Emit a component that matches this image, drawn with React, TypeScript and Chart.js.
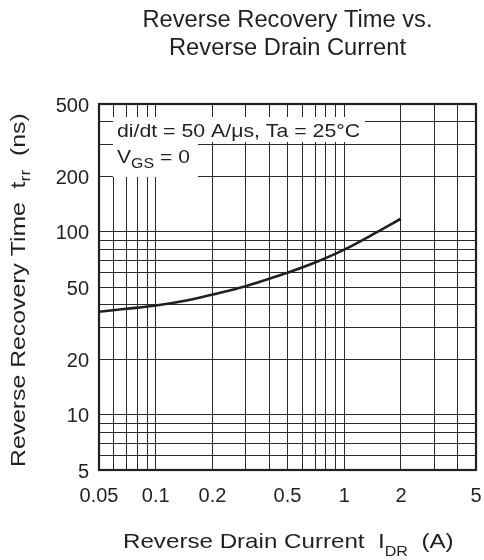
import React, { useEffect, useRef } from 'react';
import { Chart, registerables } from 'chart.js';

Chart.register(...registerables);

// ---- data ----
const titleLines = ['Reverse Recovery Time vs.', 'Reverse Drain Current'];
const currentA = [0.05, 0.07, 0.1, 0.15, 0.2, 0.3, 0.4, 0.5, 0.7, 1, 1.5, 2];
const trrNs = [36.6, 38.0, 39.6, 42.5, 45.5, 50.5, 55.5, 59.8, 68, 80, 100, 118];
const xGrid = [0.05, 0.06, 0.07, 0.08, 0.09, 0.1, 0.2, 0.3, 0.4, 0.5, 0.6, 0.7, 0.8, 0.9, 1, 2, 3, 4, 5];
const xLabels = [0.05, 0.1, 0.2, 0.5, 1, 2, 5];
const yGrid = [5, 6, 7, 8, 9, 10, 20, 30, 40, 50, 60, 70, 80, 90, 100, 200, 300, 400, 500];
const yLabels = [5, 10, 20, 50, 100, 200, 500];
const conditionLine1 = 'di/dt = 50 A/\u03bcs, Ta = 25\u00b0C';
const conditionLine2 = ['V', 'GS', ' = 0'];
const xTitle = ['Reverse Drain Current  I', 'DR', '  (A)'];
const yTitle = ['Reverse Recovery Time  t', 'rr', '  (ns)'];

const FONT = '"Liberation Sans", Arial, Helvetica, sans-serif';
const INK = '#231f20';

type Run = { t: string; size: number; dy?: number };

function drawRuns(ctx: CanvasRenderingContext2D, runs: Run[], x: number, y: number, sx: number, align: 'left' | 'center') {
  ctx.save();
  ctx.translate(x, y);
  ctx.scale(sx, 1);
  ctx.textBaseline = 'alphabetic';
  ctx.textAlign = 'left';
  ctx.fillStyle = INK;
  let total = 0;
  for (const r of runs) {
    ctx.font = `${r.size}px ${FONT}`;
    total += ctx.measureText(r.t).width;
  }
  let cx = align === 'center' ? -total / 2 : 0;
  for (const r of runs) {
    ctx.font = `${r.size}px ${FONT}`;
    ctx.fillText(r.t, cx, r.dy || 0);
    cx += ctx.measureText(r.t).width;
  }
  ctx.restore();
}

const decorPlugin = {
  id: 'decor',
  afterDatasetsDraw(chart: any) {
    const ctx: CanvasRenderingContext2D = chart.ctx;
    const a = chart.chartArea;
    // white boxes behind the condition text
    ctx.save();
    ctx.fillStyle = '#ffffff';
    ctx.fillRect(a.left + 14, a.top + 13, 252, 25);
    ctx.fillRect(a.left + 14, a.top + 38, 85, 35);
    ctx.restore();
    drawRuns(ctx, [{ t: conditionLine1, size: 18.5 }], a.left + 18, a.top + 33, 1.15, 'left');
    drawRuns(
      ctx,
      [
        { t: conditionLine2[0], size: 18.5 },
        { t: conditionLine2[1], size: 14, dy: 5 },
        { t: conditionLine2[2], size: 18.5 },
      ],
      a.left + 18,
      a.top + 59,
      1.14,
      'left'
    );
  },
  afterDraw(chart: any) {
    const ctx: CanvasRenderingContext2D = chart.ctx;
    const a = chart.chartArea;
    // frame
    ctx.save();
    ctx.strokeStyle = INK;
    ctx.lineWidth = 2.2;
    ctx.strokeRect(a.left, a.top, a.right - a.left, a.bottom - a.top);
    ctx.restore();
    const cx = (a.left + a.right) / 2;
    // title
    drawRuns(ctx, [{ t: titleLines[0], size: 23 }], cx, 27, 1.03, 'center');
    drawRuns(ctx, [{ t: titleLines[1], size: 23 }], cx, 55, 1.03, 'center');
    // x title
    drawRuns(
      ctx,
      [
        { t: xTitle[0], size: 21 },
        { t: xTitle[1], size: 14, dy: 8 },
        { t: xTitle[2], size: 21 },
      ],
      a.left + 24,
      548,
      1.15,
      'left'
    );
    // y title
    ctx.save();
    ctx.translate(25, 467);
    ctx.rotate(-Math.PI / 2);
    drawRuns(
      ctx,
      [
        { t: yTitle[0], size: 21 },
        { t: yTitle[1], size: 15, dy: 5 },
        { t: yTitle[2], size: 21 },
      ],
      0,
      0,
      1.18,
      'left'
    );
    ctx.restore();
  },
};

export default function App() {
  const ref = useRef<HTMLCanvasElement | null>(null);
  useEffect(() => {
    if (!ref.current) return;
    const chart = new Chart(ref.current, {
      type: 'line',
      data: {
        datasets: [
          {
            data: currentA.map((x, i) => ({ x, y: trrNs[i] })),
            borderColor: INK,
            borderWidth: 2.6,
            pointRadius: 0,
            cubicInterpolationMode: 'monotone',
            fill: false,
          },
        ],
      },
      options: {
        responsive: false,
        devicePixelRatio: 1,
        animation: false,
        events: [],
        layout: { padding: { left: 0, right: 8, top: 104, bottom: 0 } },
        plugins: { legend: { display: false }, tooltip: { enabled: false }, title: { display: false } },
        scales: {
          x: {
            type: 'logarithmic',
            min: 0.05,
            max: 5,
            afterBuildTicks: (s: any) => {
              s.ticks = xGrid.map((v) => ({ value: v }));
            },
            afterFit: (s: any) => {
              s.height = 90;
              s.paddingLeft = 0;
              s.paddingRight = 0;
            },
            grid: { color: '#2a2a2a', lineWidth: 1, drawTicks: false },
            border: { display: false },
            ticks: {
              autoSkip: false,
              maxRotation: 0,
              minRotation: 0,
              padding: 14,
              color: INK,
              font: { family: FONT, size: 20 },
              callback: (v: any) => (xLabels.includes(Number(v)) ? String(v) : ''),
            },
          },
          y: {
            type: 'logarithmic',
            min: 5,
            max: 500,
            afterBuildTicks: (s: any) => {
              s.ticks = yGrid.map((v) => ({ value: v }));
            },
            afterFit: (s: any) => {
              s.width = 99;
              s.paddingTop = 0;
              s.paddingBottom = 0;
            },
            grid: { color: '#2a2a2a', lineWidth: 1, drawTicks: false },
            border: { display: false },
            ticks: {
              autoSkip: false,
              padding: 10,
              labelOffset: 2,
              color: INK,
              font: { family: FONT, size: 20 },
              callback: (v: any) => (yLabels.includes(Number(v)) ? String(v) : ''),
            },
          },
        },
      },
      plugins: [decorPlugin],
    } as any);
    return () => chart.destroy();
  }, []);
  return (
    <div style={{ position: 'fixed', left: 0, top: 0, width: 484, height: 560, background: '#fff' }}>
      <canvas ref={ref} width={484} height={560} style={{ display: 'block', width: 484, height: 560 }} />
    </div>
  );
}
